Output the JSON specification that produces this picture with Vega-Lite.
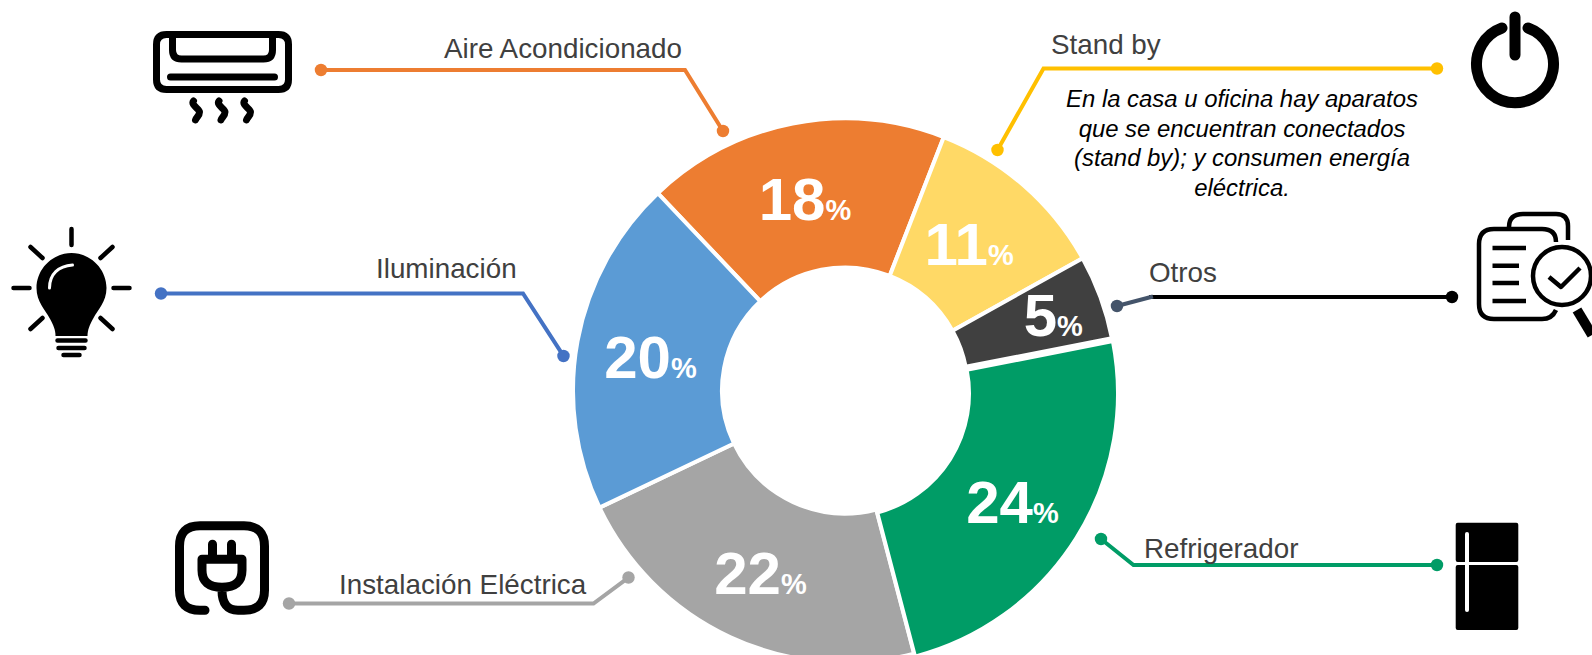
{
"$schema":"https://vega.github.io/schema/vega-lite/v6.json",
"width":1592,"height":655,"padding":0,"autosize":{"type":"none"},
"background":"white",
"config":{"view":{"stroke":null}},
"datasets":{
"consumo":[
{"categoria":"Aire Acondicionado","share":18,"orden":1},
{"categoria":"Stand by","share":11,"orden":2},
{"categoria":"Otros","share":5,"orden":3},
{"categoria":"Refrigerador","share":24,"orden":4},
{"categoria":"Instalación Eléctrica","share":22,"orden":5},
{"categoria":"Iluminación","share":20,"orden":6}],
"porcentajes":[
{"categoria":"Aire Acondicionado","share":18,"x":825.5,"y":219.5},
{"categoria":"Stand by","share":11,"x":988,"y":265},
{"categoria":"Otros","share":5,"x":1057,"y":335.5},
{"categoria":"Refrigerador","share":24,"x":1033,"y":522.5},
{"categoria":"Instalación Eléctrica","share":22,"x":781,"y":594},
{"categoria":"Iluminación","share":20,"x":671,"y":378}],
"guias":[
{"serie":"Aire Acondicionado","p":1,"x":321,"y":70},{"serie":"Aire Acondicionado","p":2,"x":685,"y":70},{"serie":"Aire Acondicionado","p":3,"x":723,"y":131},
{"serie":"Iluminación","p":1,"x":161,"y":293.5},{"serie":"Iluminación","p":2,"x":523,"y":293.5},{"serie":"Iluminación","p":3,"x":563.5,"y":356},
{"serie":"Instalación Eléctrica","p":1,"x":289,"y":603.5},{"serie":"Instalación Eléctrica","p":2,"x":593.5,"y":603.5},{"serie":"Instalación Eléctrica","p":3,"x":628.5,"y":577.5},
{"serie":"Stand by","p":1,"x":1437,"y":68.5},{"serie":"Stand by","p":2,"x":1043.5,"y":68.5},{"serie":"Stand by","p":3,"x":997.5,"y":150},
{"serie":"Otros","p":1,"x":1452,"y":297},{"serie":"Otros","p":2,"x":1151,"y":297},
{"serie":"Otros tramo","p":1,"x":1151,"y":297},{"serie":"Otros tramo","p":2,"x":1117,"y":306},
{"serie":"Refrigerador","p":1,"x":1437,"y":565},{"serie":"Refrigerador","p":2,"x":1133.5,"y":565},{"serie":"Refrigerador","p":3,"x":1101,"y":539}],
"nombres":[
{"nombre":"Aire Acondicionado","x":444,"y":58},
{"nombre":"Iluminación","x":376,"y":278},
{"nombre":"Instalación Eléctrica","x":339,"y":593.5},
{"nombre":"Stand by","x":1051,"y":54},
{"nombre":"Otros","x":1149,"y":282},
{"nombre":"Refrigerador","x":1144,"y":557.5}],
"nota":[{"texto":"En la casa u oficina hay aparatos\nque se encuentran conectados\n(stand by); y consumen energía\neléctrica.","x":1242,"y":107}]
},
"resolve":{"scale":{"color":"independent"}},
"layer":[
{"data":{"name":"consumo"},
"transform":[{"stack":"share","groupby":[],"sort":[{"field":"orden","order":"ascending"}],"as":["t0","t1"]},{"filter":"datum.categoria !== 'Refrigerador'"}],
"mark":{"type":"arc","outerRadius":272,"innerRadius":123,"stroke":"white","strokeWidth":4},
"encoding":{
"x":{"datum":845,"type":"quantitative","scale":{"domain":[0,1592],"range":[0,1592]},"axis":null},
"y":{"datum":390.5,"type":"quantitative","scale":{"domain":[0,655],"range":[0,655]},"axis":null},
"theta":{"field":"t0","type":"quantitative","stack":null,"scale":{"domain":[0,100],"range":[5.5239,11.8071]}},
"theta2":{"field":"t1"},
"color":{"field":"categoria","type":"nominal","legend":null,"scale":{"domain":["Aire Acondicionado","Stand by","Otros","Instalación Eléctrica","Iluminación"],"range":["#ED7D31","#FFD966","#404040","#A5A5A5","#5B9BD5"]}}}},
{"data":{"name":"consumo"},
"transform":[{"stack":"share","groupby":[],"sort":[{"field":"orden","order":"ascending"}],"as":["t0","t1"]},{"filter":"datum.categoria === 'Refrigerador'"}],
"mark":{"type":"arc","outerRadius":272,"innerRadius":123,"stroke":"white","strokeWidth":4},
"encoding":{
"x":{"datum":846,"type":"quantitative","scale":{"domain":[0,1592],"range":[0,1592]},"axis":null},
"y":{"datum":393.5,"type":"quantitative","scale":{"domain":[0,655],"range":[0,655]},"axis":null},
"theta":{"field":"t0","type":"quantitative","stack":null,"scale":{"domain":[0,100],"range":[5.5239,11.8071]}},
"theta2":{"field":"t1"},
"color":{"field":"categoria","type":"nominal","legend":null,"scale":{"domain":["Refrigerador"],"range":["#009C66"]}}}},
{"data":{"name":"porcentajes"},
"mark":{"type":"text","align":"right","baseline":"alphabetic","font":"Liberation Sans","fontWeight":"bold","fontSize":60,"fill":"white"},
"encoding":{
"x":{"field":"x","type":"quantitative","scale":{"domain":[0,1592],"range":[0,1592]},"axis":null},
"y":{"field":"y","type":"quantitative","scale":{"domain":[0,655],"range":[0,655]},"axis":null},
"text":{"field":"share","type":"quantitative"}}},
{"data":{"name":"porcentajes"},
"mark":{"type":"text","align":"left","baseline":"alphabetic","font":"Liberation Sans","fontWeight":"bold","fontSize":29,"fill":"white","text":"%"},
"encoding":{"x":{"field":"x","type":"quantitative","scale":{"domain":[0,1592],"range":[0,1592]},"axis":null},"y":{"field":"y","type":"quantitative","scale":{"domain":[0,655],"range":[0,655]},"axis":null}}},
{"data":{"name":"guias"},
"mark":{"type":"line","strokeWidth":4,"strokeCap":"square","strokeJoin":"miter","interpolate":"linear"},
"encoding":{
"x":{"field":"x","type":"quantitative","scale":{"domain":[0,1592],"range":[0,1592]},"axis":null},"y":{"field":"y","type":"quantitative","scale":{"domain":[0,655],"range":[0,655]},"axis":null},
"order":{"field":"p","type":"ordinal"},
"color":{"field":"serie","type":"nominal","legend":null,"scale":{"domain":["Aire Acondicionado","Iluminación","Instalación Eléctrica","Stand by","Otros","Otros tramo","Refrigerador"],"range":["#ED7D31","#4472C4","#A5A5A5","#FFC000","#000000","#44546A","#009C66"]}}}},
{"data":{"name":"guias"},
"transform":[{"filter":"datum.p === 1 || (datum.p === 3) || datum.serie === 'Otros tramo'"},{"filter":"!(datum.serie === 'Otros tramo' && datum.p === 1)"}],
"mark":{"type":"circle","size":155,"opacity":1},
"encoding":{
"x":{"field":"x","type":"quantitative","scale":{"domain":[0,1592],"range":[0,1592]},"axis":null},"y":{"field":"y","type":"quantitative","scale":{"domain":[0,655],"range":[0,655]},"axis":null},
"color":{"field":"serie","type":"nominal","legend":null,"scale":{"domain":["Aire Acondicionado","Iluminación","Instalación Eléctrica","Stand by","Otros","Otros tramo","Refrigerador"],"range":["#ED7D31","#4472C4","#A5A5A5","#FFC000","#000000","#44546A","#009C66"]}}}},
{"data":{"name":"nombres"},
"mark":{"type":"text","align":"left","baseline":"alphabetic","font":"Liberation Sans","fontSize":27.8,"fill":"#404040"},
"encoding":{"x":{"field":"x","type":"quantitative","scale":{"domain":[0,1592],"range":[0,1592]},"axis":null},"y":{"field":"y","type":"quantitative","scale":{"domain":[0,655],"range":[0,655]},"axis":null},"text":{"field":"nombre","type":"nominal"}}},
{"data":{"name":"nota"},
"mark":{"type":"text","align":"center","baseline":"alphabetic","font":"Liberation Sans","fontStyle":"italic","fontSize":23.9,"fill":"#000000","lineBreak":"\n","lineHeight":29.5},
"encoding":{"x":{"field":"x","type":"quantitative","scale":{"domain":[0,1592],"range":[0,1592]},"axis":null},"y":{"field":"y","type":"quantitative","scale":{"domain":[0,655],"range":[0,655]},"axis":null},"text":{"field":"texto","type":"nominal"}}},
{"data":{"values":[{"icono":"aire","x":222.5,"y":62}]},
"mark":{"type":"point","filled":false,"stroke":"black","strokeWidth":7,"strokeCap":"round","opacity":1,"size":4,
"shape":"M-56,-27.5 H56 Q66,-27.5 66,-17.5 V17.5 Q66,27.5 56,27.5 H-56 Q-66,27.5 -66,17.5 V-17.5 Q-66,-27.5 -56,-27.5 Z M-50,-27 V-12 Q-50,-3 -41,-3 H41 Q50,-3 50,-12 V-27 M-52,15 H52 M-29,39 C-32,43 -23,47 -23,50 C-23,54 -26,55 -27,58 M-3.5,39 C-6.5,43 2.5,47 2.5,50 C2.5,54 -0.5,55 -1.5,58 M22,39 C19,43 28,47 28,50 C28,54 25,55 24,58"},
"encoding":{"x":{"field":"x","type":"quantitative","scale":{"domain":[0,1592],"range":[0,1592]},"axis":null},"y":{"field":"y","type":"quantitative","scale":{"domain":[0,655],"range":[0,655]},"axis":null}}},
{"data":{"values":[{"icono":"bombilla","x":71.5,"y":288}]},
"mark":{"type":"point","filled":true,"fill":"black","stroke":null,"opacity":1,"size":4,
"shape":"M0,-35 C19,-35 35,-19 35,0 C35,14 26,22 22,30 C18,37 16,42 16,48 H-16 C-16,42 -18,37 -22,30 C-26,22 -35,14 -35,0 C-35,-19 -19,-35 0,-35 Z"},
"encoding":{"x":{"field":"x","type":"quantitative","scale":{"domain":[0,1592],"range":[0,1592]},"axis":null},"y":{"field":"y","type":"quantitative","scale":{"domain":[0,655],"range":[0,655]},"axis":null}}},
{"data":{"values":[{"icono":"bombilla","x":71.5,"y":288}]},
"mark":{"type":"point","filled":false,"stroke":"black","strokeWidth":4.5,"strokeCap":"round","opacity":1,"size":4,
"shape":"M0,-59 V-43 M-58,0 H-42 M42,0 H58 M-41,-41 L-29,-30 M41,-41 L29,-30 M-41,41 L-29,30 M41,41 L29,30 M-14,52.5 H14 M-13,60 H13 M-8,67 H8"},
"encoding":{"x":{"field":"x","type":"quantitative","scale":{"domain":[0,1592],"range":[0,1592]},"axis":null},"y":{"field":"y","type":"quantitative","scale":{"domain":[0,655],"range":[0,655]},"axis":null}}},
{"data":{"values":[{"icono":"bombilla","x":71.5,"y":288}]},
"mark":{"type":"point","filled":false,"stroke":"white","strokeWidth":3,"strokeCap":"round","opacity":1,"size":4,
"shape":"M-22,0 C-22,-14 -13,-22 1,-23"},
"encoding":{"x":{"field":"x","type":"quantitative","scale":{"domain":[0,1592],"range":[0,1592]},"axis":null},"y":{"field":"y","type":"quantitative","scale":{"domain":[0,655],"range":[0,655]},"axis":null}}},
{"data":{"values":[{"icono":"enchufe","x":222,"y":568.3}]},
"mark":{"type":"point","filled":false,"stroke":"black","strokeWidth":9,"strokeCap":"round","strokeJoin":"round","opacity":1,"size":4,
"shape":"M-17,42 H-22 Q-42.5,42 -42.5,22 V-22 Q-42.5,-42.5 -22,-42.5 H22 Q42.5,-42.5 42.5,-22 V22 Q42.5,42 22,42 H16 Q0,42 0,22 M-20,-9 H20 V2 Q20,19 0,19 Q-20,19 -20,2 Z M-9.5,-24 V-12 M9.5,-24 V-12"},
"encoding":{"x":{"field":"x","type":"quantitative","scale":{"domain":[0,1592],"range":[0,1592]},"axis":null},"y":{"field":"y","type":"quantitative","scale":{"domain":[0,655],"range":[0,655]},"axis":null}}},
{"data":{"values":[{"icono":"encendido","x":1515,"y":64}]},
"mark":{"type":"point","filled":false,"stroke":"black","strokeWidth":11,"strokeCap":"round","opacity":1,"size":4,
"shape":"M-13,-36 A38.5,38.5 0 1 0 13,-36 M0,-47 V-9"},
"encoding":{"x":{"field":"x","type":"quantitative","scale":{"domain":[0,1592],"range":[0,1592]},"axis":null},"y":{"field":"y","type":"quantitative","scale":{"domain":[0,655],"range":[0,655]},"axis":null}}},
{"data":{"values":[{"icono":"nevera","x":1487,"y":576}]},
"mark":{"type":"point","filled":true,"fill":"black","stroke":null,"opacity":1,"size":4,
"shape":"M-29.3,-53.3 H29.3 Q31.3,-53.3 31.3,-51.3 V-16 Q31.3,-14 29.3,-14 H-29.3 Q-31.3,-14 -31.3,-16 V-51.3 Q-31.3,-53.3 -29.3,-53.3 Z M-29.3,-11 H29.3 Q31.3,-11 31.3,-9 V52 Q31.3,54 29.3,54 H-29.3 Q-31.3,54 -31.3,52 V-9 Q-31.3,-11 -29.3,-11 Z"},
"encoding":{"x":{"field":"x","type":"quantitative","scale":{"domain":[0,1592],"range":[0,1592]},"axis":null},"y":{"field":"y","type":"quantitative","scale":{"domain":[0,655],"range":[0,655]},"axis":null}}},
{"data":{"values":[{"icono":"nevera","x":1487,"y":576}]},
"mark":{"type":"point","filled":false,"stroke":"white","strokeWidth":4,"strokeCap":"round","opacity":1,"size":4,
"shape":"M-20,-42 V34"},
"encoding":{"x":{"field":"x","type":"quantitative","scale":{"domain":[0,1592],"range":[0,1592]},"axis":null},"y":{"field":"y","type":"quantitative","scale":{"domain":[0,655],"range":[0,655]},"axis":null}}},
{"data":{"values":[{"icono":"otros","x":1520,"y":270}]},
"mark":{"type":"point","filled":false,"stroke":"black","strokeWidth":4.5,"strokeCap":"butt","strokeJoin":"round","opacity":1,"size":4,
"shape":"M36,-28 Q36,-41 22,-41 H-26 Q-41,-41 -41,-26 V34 Q-41,49 -26,49 H22 Q32,49 36,40 M-11,-43 Q-11,-56 3,-56 H36 Q48,-56 48,-44 V-30 M-27.5,-22 H6 M-27.5,-4.3 H-1 M-27.5,13 H-1 M-27.5,31 H6 M13,6 A29,29 0 1 1 71,6 A29,29 0 1 1 13,6 Z M29,7 L41,17 L60,-2"},
"encoding":{"x":{"field":"x","type":"quantitative","scale":{"domain":[0,1592],"range":[0,1592]},"axis":null},"y":{"field":"y","type":"quantitative","scale":{"domain":[0,655],"range":[0,655]},"axis":null}}},
{"data":{"values":[{"icono":"otros","x":1520,"y":270}]},
"mark":{"type":"point","filled":false,"stroke":"black","strokeWidth":10,"opacity":1,"size":4,
"shape":"M57,40 L72,65"},
"encoding":{"x":{"field":"x","type":"quantitative","scale":{"domain":[0,1592],"range":[0,1592]},"axis":null},"y":{"field":"y","type":"quantitative","scale":{"domain":[0,655],"range":[0,655]},"axis":null}}}
]
}
